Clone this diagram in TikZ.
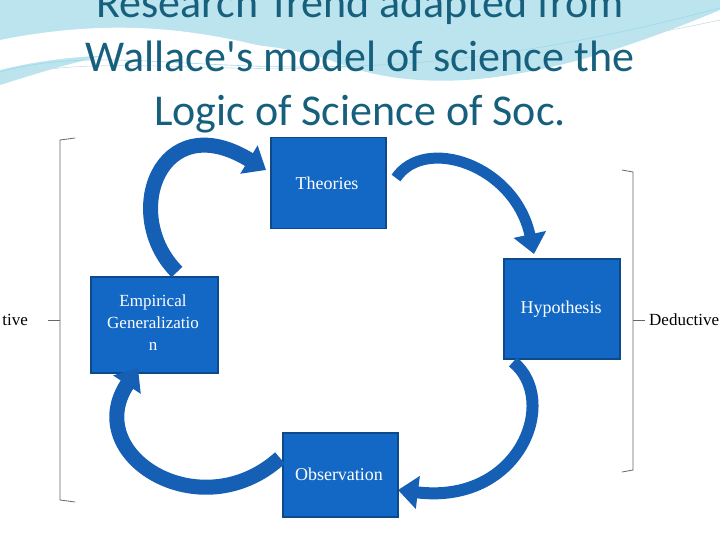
\documentclass[tikz,border=0pt]{standalone}
\usepackage{fontspec}
\setmainfont{Liberation Serif}
\newfontfamily\titlefont{Carlito}
\usetikzlibrary{arrows.meta}
\definecolor{boxblue}{HTML}{1268C4}
\definecolor{boxedge}{HTML}{0D4A8C}
\definecolor{arrblue}{HTML}{1560B5}
\definecolor{titlec}{HTML}{17607D}
\definecolor{wave}{HTML}{9ED8E8}
\tikzset{
  stepbox/.style={rectangle,fill=boxblue,draw=boxedge,line width=1.5pt,anchor=north west},
  boxtext/.style={text=white,align=center,font=\fontsize{18}{22}\selectfont},
  ribbon/.style={draw=arrblue,line width=15pt,-{Triangle[width=32pt,length=20pt]}},
  brack/.style={draw=black!60,line width=0.8pt},
}
\begin{document}
\begin{tikzpicture}[x=1pt,y=-1pt]
\useasboundingbox (0,0) rectangle (720,540);
% background waves
\fill[wave!70] (0,0) -- (720,0) -- (720,10) .. controls (600,60) and (450,110) .. (330,60) .. controls (200,20) and (80,60) .. (0,85) -- cycle;
\fill[white] (0,40) .. controls (150,10) and (250,40) .. (360,75) .. controls (450,100) and (600,60) .. (720,20) -- (720,30) .. controls (600,80) and (450,120) .. (360,90) .. controls (250,60) and (120,40) .. (0,70) -- cycle;
\draw[wave!80!black!40,line width=0.6pt] (0,78) .. controls (150,40) and (300,110) .. (720,20);
\draw[wave,line width=0.6pt] (0,72) .. controls (150,30) and (300,120) .. (720,8);
% title
\node[font=\titlefont\fontsize{44}{54}\selectfont,text=titlec,align=center] (title) at (360,60) {Research Trend adapted from\\Wallace's model of science the\\Logic of Science of Soc.};
% boxes
\node[stepbox,minimum width=115pt,minimum height=91pt] (theo) at (270,137) {};
\node[boxtext] (theot) at (327,183) {Theories};
\node[stepbox,minimum width=127pt,minimum height=96pt] (emp) at (90,276) {};
\node[boxtext,font=\fontsize{17}{22}\selectfont] (empt) at (153,323) {Empirical\\Generalizatio\\n};
\node[stepbox,minimum width=116pt,minimum height=100pt] (hyp) at (503,258) {};
\node[boxtext] (hypt) at (561,309) {Hypothesis};
\node[stepbox,minimum width=115pt,minimum height=84pt] (obs) at (282,432) {};
\node[boxtext] (obst) at (339,474) {Observation};
% arrows
\coordinate (a1s) at (177,272); \coordinate (a1e) at (266,170);
\coordinate (a2s) at (396,178); \coordinate (a2e) at (534,254);
\coordinate (a3s) at (513,362); \coordinate (a3e) at (398,490);
\coordinate (a4s) at (280,458); \coordinate (a4e) at (138,368);
\draw[ribbon] (a1s) .. controls (120,215) and (160,105) .. (a1e);
\draw[ribbon,line width=11pt] (a2s) .. controls (425,135) and (515,165) .. (a2e);
\draw[ribbon,line width=12pt] (a3s) .. controls (560,400) and (520,505) .. (a3e);
\draw[ribbon] (a4s) .. controls (200,530) and (80,455) .. (a4e);
% brackets
\draw[brack] (75,138) -- (60,140) -- (60,500) -- (75,502);
\coordinate (lb) at (60,320); \coordinate (lbe) at (48,320);
\draw[brack] (lb) -- (lbe);
\node[anchor=east,font=\fontsize{17}{20}\selectfont,inner sep=0pt] (ind) at (28,320) {tive};
\draw[brack] (622,170) -- (633,172) -- (633,470) -- (622,472);
\coordinate (rb) at (633,320); \coordinate (rbe) at (645,320);
\draw[brack] (rb) -- (rbe);
\node[anchor=west,font=\fontsize{17}{20}\selectfont,inner sep=0pt] (ded) at (649,320) {Deductive};
\end{tikzpicture}
\end{document}
